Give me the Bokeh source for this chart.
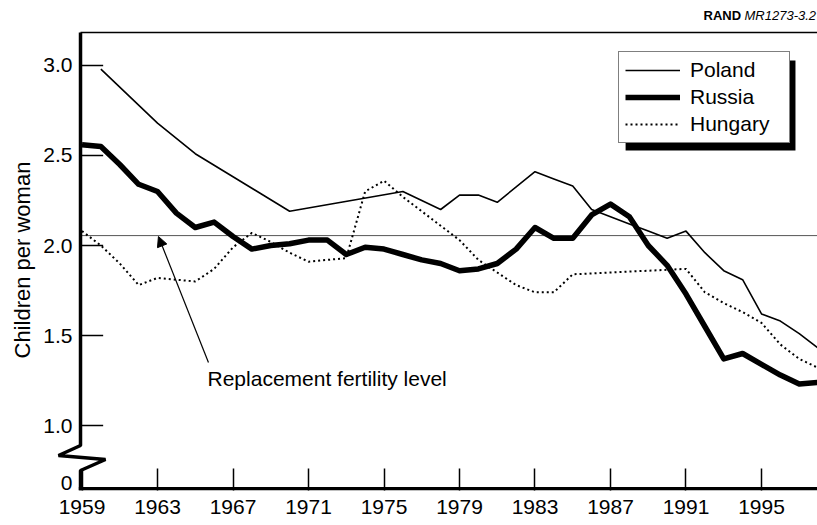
from bokeh.plotting import figure
from bokeh.models import (Range1d, FixedTicker, Arrow, NormalHead, Label, Title,
                          Legend, LegendItem, BoxAnnotation)
from bokeh.embed import file_html
from bokeh.resources import INLINE

# ---- data ----
poland_years = [1960, 1963, 1965, 1970, 1976, 1977, 1978, 1979, 1980, 1981, 1983,
                1984, 1985, 1986, 1987, 1988, 1989, 1990, 1991, 1992, 1993, 1994,
                1995, 1996, 1997, 1998]
poland_tfr = [2.98, 2.68, 2.51, 2.19, 2.30, 2.25, 2.20, 2.28, 2.28, 2.24, 2.41,
              2.37, 2.33, 2.20, 2.16, 2.12, 2.08, 2.04, 2.08, 1.96, 1.86, 1.81,
              1.62, 1.58, 1.51, 1.43]

russia_years = list(range(1959, 1999))
russia_tfr = [2.56, 2.55, 2.45, 2.34, 2.30, 2.18, 2.10, 2.13, 2.05, 1.98,
              2.00, 2.01, 2.03, 2.03, 1.95, 1.99, 1.98, 1.95, 1.92, 1.90,
              1.86, 1.87, 1.90, 1.98, 2.10, 2.04, 2.04, 2.17, 2.23, 2.16,
              2.00, 1.89, 1.73, 1.55, 1.37, 1.40, 1.34, 1.28, 1.23, 1.24]

hungary_years = [1959, 1960, 1961, 1962, 1963, 1964, 1965, 1966, 1967, 1968,
                 1969, 1970, 1971, 1972, 1973, 1974, 1975, 1976, 1977, 1978,
                 1979, 1980, 1981, 1982, 1983, 1984, 1985, 1991, 1992, 1993,
                 1994, 1995, 1996, 1997, 1998]
hungary_tfr = [2.08, 2.00, 1.90, 1.78, 1.82, 1.81, 1.80, 1.87, 1.99, 2.07,
               2.02, 1.96, 1.91, 1.92, 1.93, 2.30, 2.36, 2.27, 2.19, 2.11,
               2.03, 1.92, 1.85, 1.78, 1.74, 1.74, 1.84, 1.87, 1.74, 1.68,
               1.63, 1.57, 1.45, 1.37, 1.32]

replacement_level = 2.055

x_ticks = [1959, 1963, 1967, 1971, 1975, 1979, 1983, 1987, 1991, 1995]
y_ticks = [0.678, 1.0, 1.5, 2.0, 2.5, 3.0]
y_tick_labels = ["0", "1.0", "1.5", "2.0", "2.5", "3.0"]
y_tick_marks = [1.0, 1.5, 2.0, 2.5, 3.0]

FONT = "Liberation Sans"
X_START, X_END = 1957.331, 1997.967
Y_START, Y_END = 0.6389, 3.3611

# axis geometry (data units)
AX_X = 1958.921          # position of the vertical axis
AX_TOP = 3.1833          # top of the plotting box
AX_BOTTOM = 0.6483       # horizontal axis
BREAK = [(AX_X, 0.8889), (1957.755, 0.8333), (1960.245, 0.8111), (AX_X, 0.75)]

p = figure(width=817, height=525, output_backend="svg", toolbar_location=None,
           x_range=Range1d(X_START, X_END), y_range=Range1d(Y_START, Y_END),
           min_border_left=50, min_border_right=0, min_border_top=0,
           min_border_bottom=35)
p.outline_line_color = None
p.grid.visible = False
p.background_fill_color = "white"
p.border_fill_color = "white"

# x axis (line drawn separately)
xa = p.xaxis[0]
xa.ticker = FixedTicker(ticks=x_ticks)
xa.axis_line_color = None
xa.major_tick_in = 22
xa.major_tick_out = 0
xa.major_tick_line_width = 1.5
xa.major_tick_line_color = "black"
xa.minor_tick_line_color = None
xa.major_label_text_font = FONT
xa.major_label_text_font_size = "21px"
xa.major_label_text_color = "black"
xa.major_label_standoff = 9

# y axis (line and tick marks drawn separately)
ya = p.yaxis[0]
ya.ticker = FixedTicker(ticks=y_ticks)
ya.major_label_overrides = dict(zip(y_ticks, y_tick_labels))
ya.axis_line_color = None
ya.major_tick_line_color = None
ya.major_tick_in = 0
ya.major_tick_out = 0
ya.minor_tick_line_color = None
ya.major_label_text_font = FONT
ya.major_label_text_font_size = "21px"
ya.major_label_text_color = "black"
ya.major_label_standoff = -22

# y axis title, placed along the plotting box
p.add_layout(Title(text="Children per woman", align="left", offset=132,
                   standoff=12, text_font=FONT, text_font_size="22px",
                   text_font_style="normal", text_color="black"), "left")

# replacement level line
p.segment(x0=[AX_X], x1=[X_END], y0=[replacement_level], y1=[replacement_level],
          line_color="#555555", line_width=1)

# series
r_pol = p.line(poland_years, poland_tfr, line_color="black", line_width=1.6)
r_hun = p.line(hungary_years, hungary_tfr, line_color="black", line_width=2,
               line_dash="2 3")
r_rus = p.line(russia_years, russia_tfr, line_color="black", line_width=5.5,
               line_join="round")

# frame: top line, broken left axis, bottom axis, y tick marks
p.segment(x0=[AX_X], x1=[X_END], y0=[AX_TOP], y1=[AX_TOP],
          line_color="black", line_width=1.5)
axis_pts = [(AX_X, AX_TOP)] + BREAK + [(AX_X, Y_START)]
p.line([a for a, b in axis_pts], [b for a, b in axis_pts],
       line_color="black", line_width=3.5)
p.segment(x0=[AX_X - 0.09], x1=[X_END], y0=[AX_BOTTOM], y1=[AX_BOTTOM],
          line_color="black", line_width=3.5)
p.segment(x0=[AX_X] * len(y_tick_marks), x1=[AX_X + 1.2] * len(y_tick_marks),
          y0=y_tick_marks, y1=y_tick_marks, line_color="black", line_width=1.5)

# annotation arrow + label
p.add_layout(Arrow(end=NormalHead(size=10, fill_color="black", line_color="black"),
                   x_start=1965.70, y_start=1.35, x_end=1963.05, y_end=2.05,
                   line_color="black", line_width=1.2))
p.add_layout(Label(x=1965.65, y=1.261, text="Replacement fertility level",
                   text_baseline="middle", text_font=FONT,
                   text_font_size="21px", text_color="black"))

# source tag
p.add_layout(Label(x=1991.93, y=3.278, text="RAND", text_baseline="middle",
                   text_font=FONT, text_font_size="13px",
                   text_font_style="bold", text_color="black"))
p.add_layout(Label(x=1994.10, y=3.278, text="MR1273-3.2", text_baseline="middle",
                   text_font=FONT, text_font_size="13px",
                   text_font_style="italic", text_color="black"))

# legend with shadow
p.add_layout(BoxAnnotation(left=1987.80, right=1996.80, top=3.028, bottom=2.528,
                           fill_color="black", fill_alpha=1, line_color=None))
legend = Legend(items=[LegendItem(label="Poland", renderers=[r_pol]),
                       LegendItem(label="Russia", renderers=[r_rus]),
                       LegendItem(label="Hungary", renderers=[r_hun])],
                location=(568, 347), padding=6, spacing=3, margin=0,
                glyph_width=55, glyph_height=24, label_height=24,
                label_width=93, label_standoff=10,
                label_text_font=FONT, label_text_font_size="21px",
                label_text_color="black",
                border_line_color="black", border_line_width=1.5,
                background_fill_color="white", background_fill_alpha=1)
p.add_layout(legend)

open("out.html", "w").write(file_html(p, INLINE))
